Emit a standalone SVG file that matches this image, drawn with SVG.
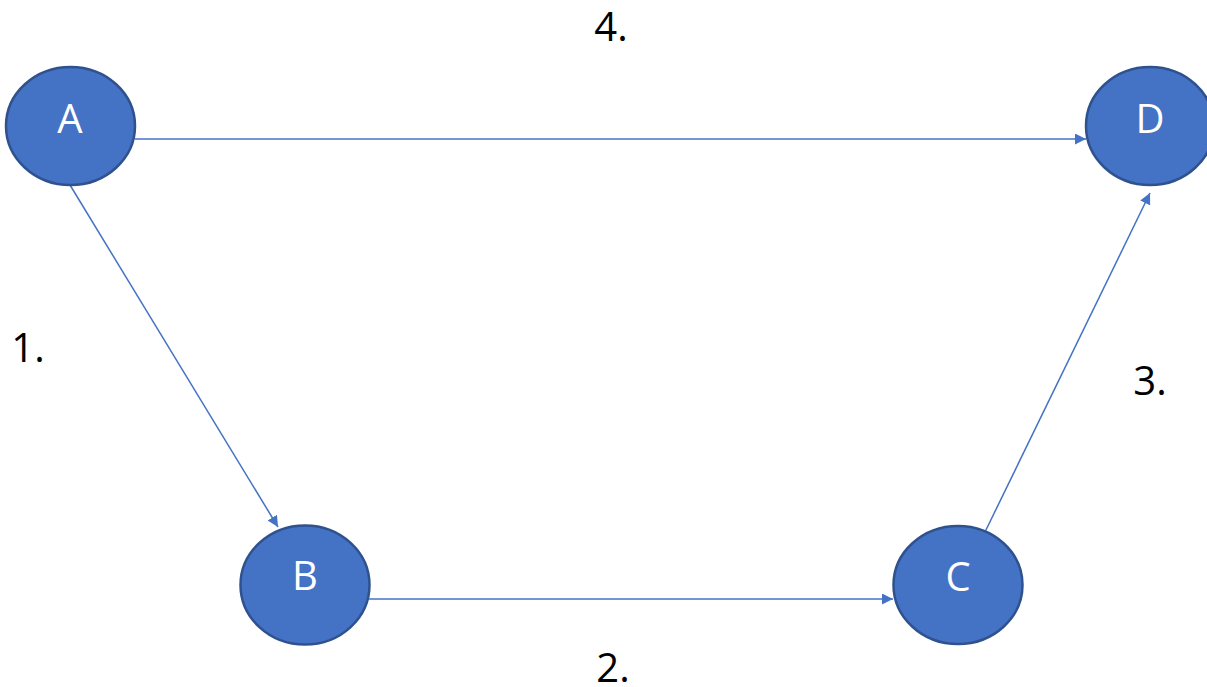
<svg xmlns="http://www.w3.org/2000/svg" width="1207" height="687" viewBox="0 0 1207 687">
<style>
.node{fill:#4472C4;stroke:#2F528F;stroke-width:2.5}
.nlabel{fill:#FFFFFF;font-family:"Open Sans","Liberation Sans",sans-serif;font-size:40px;text-anchor:middle}
.elabel{fill:#000000;font-family:"Open Sans","Liberation Sans",sans-serif;font-size:40px;text-anchor:middle}
.edge{stroke:#4472C4;stroke-width:1.5;fill:none}
</style>
<defs>
<marker id="arr" viewBox="0 0 10 10" refX="10" refY="5" markerWidth="11" markerHeight="11" markerUnits="userSpaceOnUse" orient="auto">
<path d="M0,0 L10,5 L0,10 z" fill="#4472C4"/>
</marker>
</defs>
<g id="connectors">
<line class="edge" x1="135" y1="139" x2="1086" y2="139" marker-end="url(#arr)"/>
<line class="edge" x1="70" y1="185" x2="278" y2="527" marker-end="url(#arr)"/>
<line class="edge" x1="369" y1="599" x2="893" y2="599" marker-end="url(#arr)"/>
<line class="edge" x1="985" y1="532" x2="1150" y2="193" marker-end="url(#arr)"/>
</g>
<g id="node-A"><ellipse class="node" cx="70.5" cy="126" rx="64.5" ry="59"/><text class="nlabel" x="70" y="133">A</text></g>
<g id="node-D"><ellipse class="node" cx="1150" cy="126" rx="64" ry="59"/><text class="nlabel" x="1150" y="133">D</text></g>
<g id="node-B"><ellipse class="node" cx="305" cy="585" rx="64.5" ry="59.5"/><text class="nlabel" x="305" y="590">B</text></g>
<g id="node-C"><ellipse class="node" cx="958" cy="585" rx="64.5" ry="59"/><text class="nlabel" x="958" y="591">C</text></g>
<g id="edge-labels">
<text class="elabel" x="611" y="41">4.</text>
<text class="elabel" x="28" y="362">1.</text>
<text class="elabel" x="1150" y="395">3.</text>
<text class="elabel" x="613" y="682">2.</text>
</g>
</svg>
